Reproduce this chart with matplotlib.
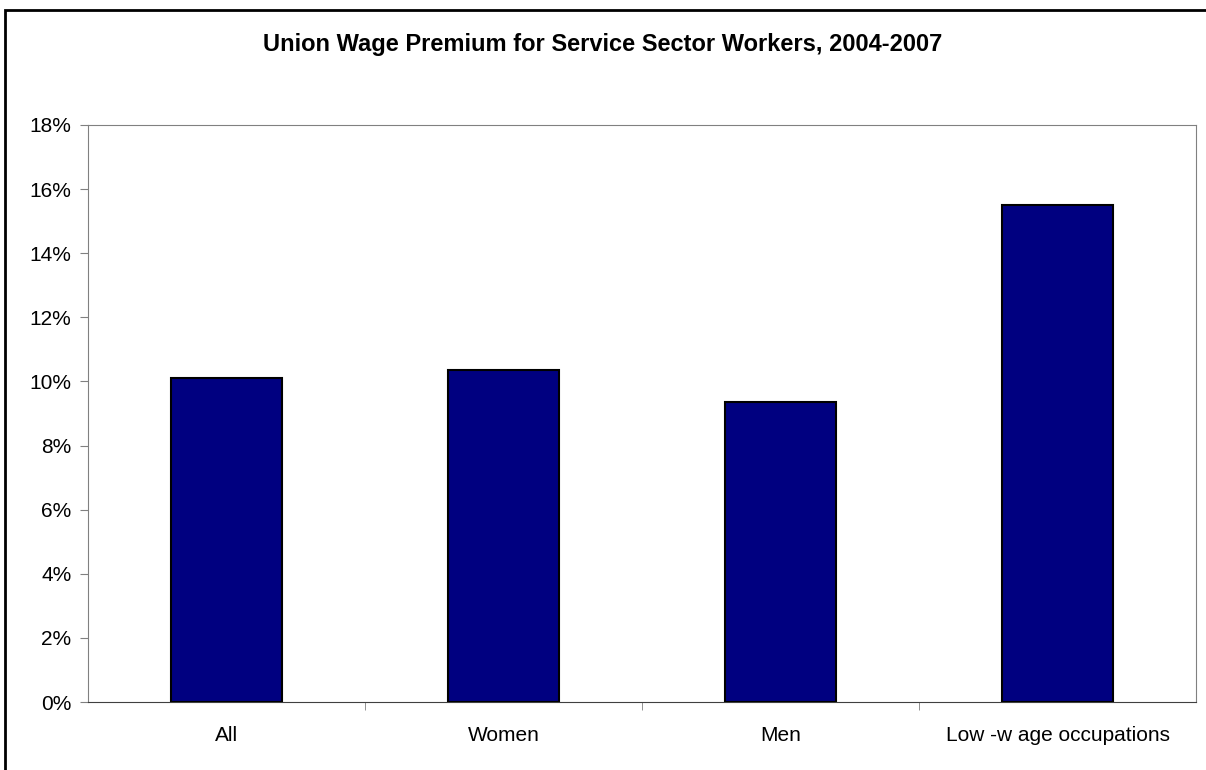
import matplotlib.pyplot as plt
from matplotlib.patches import Rectangle
from matplotlib.ticker import FuncFormatter, FixedLocator

plt.rcParams['font.family'] = ['Liberation Sans', 'DejaVu Sans']

categories = ["All", "Women", "Men", "Low -w age occupations"]
premium = [10.1, 10.35, 9.35, 15.5]

fig = plt.figure(figsize=(12.06, 7.70), dpi=100)
ax = fig.add_axes([88 / 1206, 1 - 702 / 770, (1196 - 88) / 1206, (702 - 125) / 770])

x = range(len(categories))
ax.bar(x, premium, width=0.4, color="#000080", edgecolor="black", linewidth=1.5, zorder=3)

ax.set_xlim(-0.5, len(categories) - 0.5)
ax.set_ylim(0, 18)
ax.set_yticks(range(0, 19, 2))
ax.yaxis.set_major_formatter(FuncFormatter(lambda v, p: f"{v:.0f}%"))
ax.set_xticks(list(x))
ax.set_xticklabels(categories)
ax.xaxis.set_minor_locator(FixedLocator([0.5, 1.5, 2.5]))
ax.tick_params(axis="x", which="major", length=0, pad=17, labelsize=15)
ax.tick_params(axis="x", which="minor", length=6, direction="out", color="#808080")
ax.tick_params(axis="y", length=6, direction="out", color="#808080", labelsize=15, pad=6)

for side in ["top", "right", "left"]:
    ax.spines[side].set_color("#808080")
ax.spines["bottom"].set_color("#404040")

fig.text(0.5, 1 - 45 / 770, "Union Wage Premium for Service Sector Workers, 2004-2007",
         ha="center", va="center", fontsize=17, fontweight="bold")

# outer chart-area border (cut off at right and bottom)
fig.patches.append(Rectangle((5 / 1206, -0.1), 1.2, 1 - 10 / 770 + 0.1, transform=fig.transFigure,
                             fill=False, edgecolor="black", linewidth=2))

fig.savefig("out.png", dpi=100)
